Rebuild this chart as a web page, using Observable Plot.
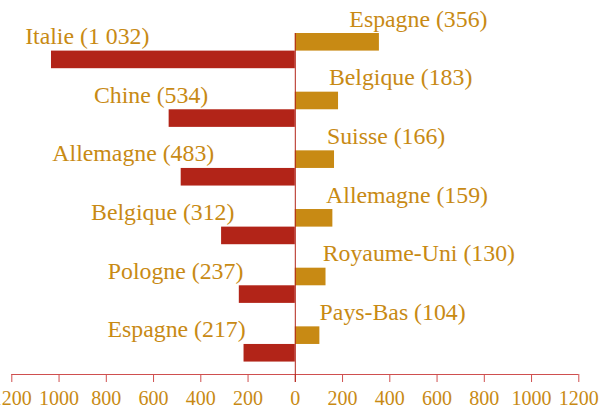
<!DOCTYPE html>
<html>
<head>
<meta charset="utf-8">
<script src="https://cdn.jsdelivr.net/npm/d3@7"></script>
<script src="https://cdn.jsdelivr.net/npm/@observablehq/plot@0.6"></script>
<style>
  html, body { margin: 0; padding: 0; background: #fff; }
  svg { display: block; }
</style>
</head>
<body>
<div id="chart"></div>
<script>
// Left side (red bars)
const importCountries = ["Italie", "Chine", "Allemagne", "Belgique", "Pologne", "Espagne"];
const importValues = [1032, 534, 483, 312, 237, 217];
// Right side (gold bars)
const exportCountries = ["Espagne", "Belgique", "Suisse", "Allemagne", "Royaume-Uni", "Pays-Bas"];
const exportValues = [356, 183, 166, 159, 130, 104];
// Axis ticks
const xTicks = [-1200, -1000, -800, -600, -400, -200, 0, 200, 400, 600, 800, 1000, 1200];

const RED = "#b22418";
const GOLD = "#c88a14";
const AXIS = "#cf4f4f";
const SERIF = "'Liberation Serif', 'Times New Roman', serif";
const BAR = 0.3;        // bar thickness in row units
const Y_MAX = 5.512;    // bottom of the frame in row units

const fr = d3.formatLocale({decimal: ",", thousands: "\u00a0", grouping: [3], currency: ["", " €"]}).format(",");

const imports = importCountries.map((c, i) => ({row: i, country: c, value: importValues[i]}));
const exports = exportCountries.map((c, i) => ({row: i, country: c, value: exportValues[i]}));

const chart = Plot.plot({
  width: 610,
  height: 409,
  marginLeft: 11.3,
  marginRight: 31.7,
  marginTop: 33,
  marginBottom: 35,
  style: {fontFamily: SERIF, background: "#fff"},
  x: {domain: [-1200, 1200]},
  y: {domain: [-BAR, Y_MAX], reverse: true, axis: null},
  marks: [
    Plot.rect(exports, {x1: 0, x2: "value", y1: d => d.row - BAR, y2: "row", fill: GOLD}),
    Plot.rect(imports, {x1: d => -d.value, x2: 0, y1: "row", y2: d => d.row + BAR, fill: RED}),
    Plot.ruleY([Y_MAX], {stroke: AXIS, strokeWidth: 1}),
    Plot.axisX({
      ticks: xTicks,
      tickSize: 8,
      tickPadding: 8,
      tickFormat: d => String(Math.abs(d)),
      stroke: AXIS,
      fill: GOLD,
      fontSize: 20,
      fontFamily: SERIF,
      label: null
    }),
    Plot.ruleX([0], {y1: -BAR, y2: Y_MAX, stroke: RED, strokeWidth: 1, insetBottom: -8}),
    Plot.text(imports, {
      x: d => -d.value / 2, y: "row",
      text: d => `${d.country} (${fr(d.value)})`,
      textAnchor: "end", lineAnchor: "bottom",
      dx: -24, dy: -7, fill: GOLD, fontSize: 23.8, fontFamily: SERIF
    }),
    Plot.text(exports, {
      x: d => d.value / 2, y: d => d.row - BAR,
      text: d => `${d.country} (${fr(d.value)})`,
      textAnchor: "start", lineAnchor: "bottom",
      dx: 12, dy: -7, fill: GOLD, fontSize: 23.8, fontFamily: SERIF
    })
  ]
});

document.getElementById("chart").appendChild(chart);
</script>
</body>
</html>
